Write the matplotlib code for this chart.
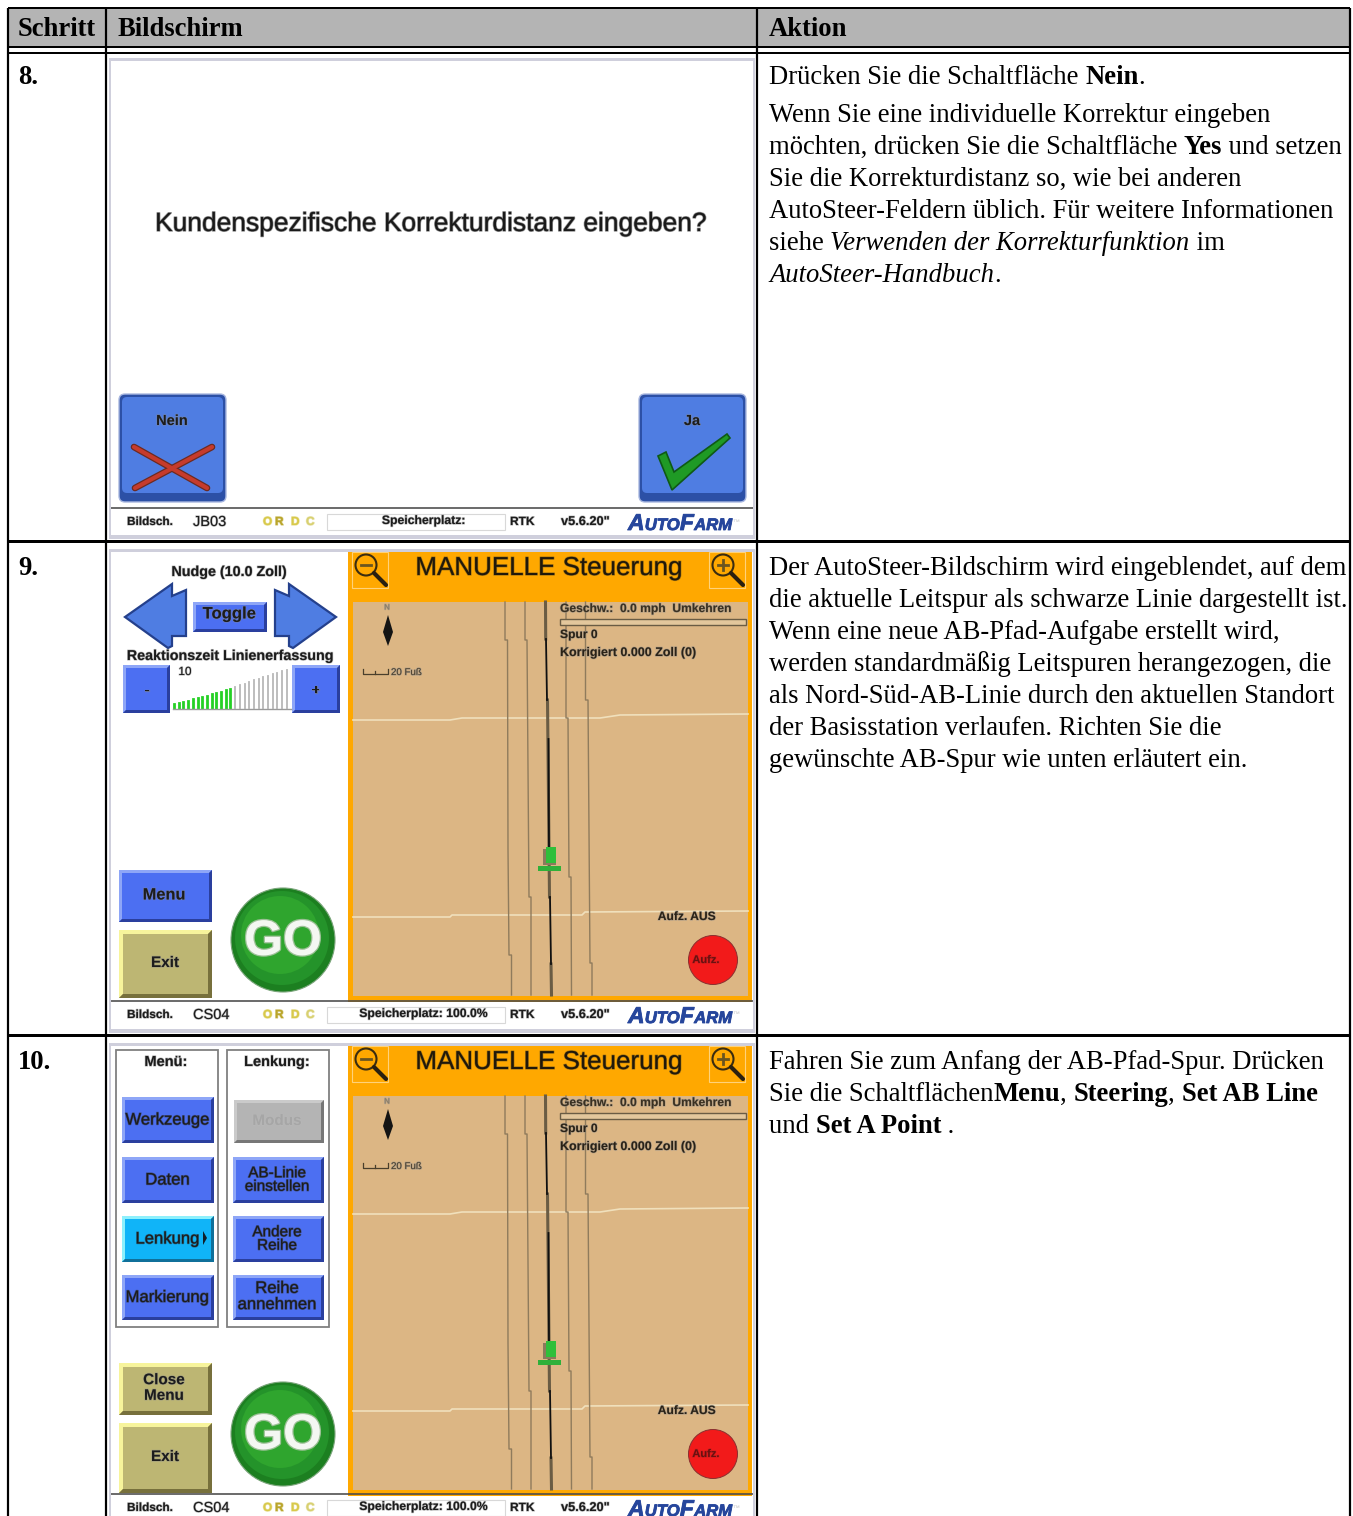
import matplotlib
matplotlib.use("Agg")
import matplotlib.pyplot as plt
import matplotlib.patheffects as pe
from matplotlib.patches import Rectangle, Circle, Polygon, FancyBboxPatch

SERIF = "Liberation Serif"
SANS = "Liberation Sans"

W, H = 1353, 1516

header_labels = ["Schritt", "Bildschirm", "Aktion"]
step_labels = ["8.", "9.", "10."]

# text runs per line, style: n normal, b bold, i italic
action_8 = [
    [("Drücken Sie die Schaltfläche ", "n"), ("Nein", "b"), (".", "n")],
    [("Wenn Sie eine individuelle Korrektur eingeben", "n")],
    [("möchten, drücken Sie die Schaltfläche ", "n"), ("Yes", "b"), (" und setzen", "n")],
    [("Sie die Korrekturdistanz so, wie bei anderen", "n")],
    [("AutoSteer-Feldern üblich. Für weitere Informationen", "n")],
    [("siehe ", "n"), ("Verwenden der Korrekturfunktion", "i"), (" im", "n")],
    [("AutoSteer-Handbuch", "i"), (".", "n")],
]
action_8_base = [84, 122, 154, 186, 218, 250, 282]
action_9 = [
    [("Der AutoSteer-Bildschirm wird eingeblendet, auf dem", "n")],
    [("die aktuelle Leitspur als schwarze Linie dargestellt ist.", "n")],
    [("Wenn eine neue AB-Pfad-Aufgabe erstellt wird,", "n")],
    [("werden standardmäßig Leitspuren herangezogen, die", "n")],
    [("als Nord-Süd-AB-Linie durch den aktuellen Standort", "n")],
    [("der Basisstation verlaufen. Richten Sie die", "n")],
    [("gewünschte AB-Spur wie unten erläutert ein.", "n")],
]
action_9_base = [575, 607, 639, 671, 703, 735, 767]
action_10 = [
    [("Fahren Sie zum Anfang der AB-Pfad-Spur. Drücken", "n")],
    [("Sie die Schaltflächen", "n"), ("Menu", "b"), (", ", "n"), ("Steering", "b"), (", ", "n"), ("Set AB Line", "b")],
    [("und ", "n"), ("Set A Point", "b"), (" .", "n")],
]
action_10_base = [1069, 1101, 1133]

# map track lines: (x, y), y relative to map top 549
tracks = [
    [(505, 53), (505, 91), (507.5, 91), (508, 300), (509, 406), (511.5, 406), (511.5, 446)],
    [(525, 53), (525, 91), (527, 91), (529, 348), (531, 348), (531, 446)],
    [(566, 53), (566, 169), (568, 169), (569, 328), (571, 328), (571.5, 446)],
    [(585.5, 53), (585.5, 151), (588, 151), (590, 414), (592, 414), (592, 446)],
]
center_dark = [
    [(545.5, 53), (545.7, 90)],
    [(547.5, 151), (549.5, 348)],
    [(551, 415), (551.5, 446)],
]
center_black = [
    [(546, 90), (547, 151)],
    [(548.5, 190), (549, 300)],
    [(550, 348), (551, 415)],
]
field_lines = [
    [(353, 171), (450, 171), (462, 169), (600, 169), (620, 166), (748, 165)],
    [(353, 368), (450, 368), (452, 366), (582, 366), (585, 363), (748, 362)],
]
slider_steps = [4, 5, 6, 7, 9, 10, 11, 12, 14, 15, 16, 18, 19, 21, 23, 24, 26, 28, 29, 31, 32, 34, 35, 37, 38]

fig = plt.figure(figsize=(W / 100, H / 100), dpi=100)
ax = fig.add_axes([0, 0, 1, 1])
ax.set_xlim(0, W)
ax.set_ylim(H, 0)
ax.axis("off")
renderer = fig.canvas.get_renderer()


def rect(x0, y0, x1, y1, color, z=2, **kw):
    ax.add_patch(Rectangle((x0, y0), x1 - x0, y1 - y0, facecolor=color, edgecolor="none", zorder=z, **kw))


def hline(x0, x1, y, lw, color="black", z=6):
    ax.plot([x0, x1], [y, y], color=color, lw=lw * 0.72, solid_capstyle="butt", zorder=z)


def vline(x, y0, y1, lw, color="black", z=6):
    ax.plot([x, x], [y0, y1], color=color, lw=lw * 0.72, solid_capstyle="butt", zorder=z)


def runs(x, base, parts, size=19.15):
    for txt, st in parts:
        weight = "bold" if st == "b" else "normal"
        style = "italic" if st == "i" else "normal"
        ax.text(x, base, txt, family=SERIF, fontsize=size, va="baseline", ha="left", color="black",
                fontweight=weight, fontstyle=style, zorder=8)
        # spaces at the end are not always measured, so measure with a stop char
        probe = ax.text(0, 0, txt + "|", family=SERIF, fontsize=size, fontweight=weight, fontstyle=style)
        bar = ax.text(0, 0, "|", family=SERIF, fontsize=size, fontweight=weight, fontstyle=style)
        x += probe.get_window_extent(renderer).width - bar.get_window_extent(renderer).width
        probe.remove()
        bar.remove()


def ui(x, y, s, size=10.5, color="#1c1c1c", weight="bold", ha="center", family=SANS, fuzz="#8a8a8a", **kw):
    t = ax.text(x, y, s, family=family, fontsize=size, color=color, fontweight=weight, ha=ha, va="center",
                zorder=7, **kw)
    t.set_path_effects([pe.withStroke(linewidth=1.0, foreground=fuzz, alpha=0.5)])
    return t


def button(x0, y0, x1, y1, face, light, dark, bevel=3):
    rect(x0, y0, x1, y1, face, z=3)
    ax.add_patch(Polygon([(x0, y0), (x1, y0), (x1 - bevel, y0 + bevel), (x0 + bevel, y0 + bevel),
                          (x0 + bevel, y1 - bevel), (x0, y1)], facecolor=light, edgecolor="none", zorder=4))
    ax.add_patch(Polygon([(x1, y0), (x1, y1), (x0, y1), (x0 + bevel, y1 - bevel), (x1 - bevel, y1 - bevel),
                          (x1 - bevel, y0 + bevel)], facecolor=dark, edgecolor="none", zorder=4))


def blue(x0, y0, x1, y1, bevel=3):
    button(x0, y0, x1, y1, "#4c6ff2", "#8ea6f7", "#2a3f9e", bevel)


def olive(x0, y0, x1, y1):
    button(x0, y0, x1, y1, "#bdb673", "#f7f49c", "#77703c", 4)


def screen(y0, y1):
    rect(109, y0, 755, y1, "white", z=1)
    for a, b, c, d in [(109, y0, 755, y0 + 3), (109, y1 - 4, 755, y1), (109, y0, 111, y1), (753, y0, 755, y1)]:
        rect(a, b, c, d, "#cfcfdc", z=5)


def status(y, code, mem):
    hline(111, 753, y - 14, 1.6, "#4a4a4a")
    ui(127, y, "Bildsch.", size=8.5, ha="left")
    ui(193, y, code, size=10.5, ha="left", weight="normal")
    for dx, ch, col in [(263, "O", "#d8c94a"), (275, "R", "#b9a52a"), (291, "D", "#d8c94a"), (306, "C", "#d8d070")]:
        ui(dx, y, ch, size=8.5, color=col, ha="left", fuzz=col)
    ax.add_patch(Rectangle((327, y - 8), 178, 16, facecolor="white", edgecolor="#d8d8d8", lw=0.8, zorder=4))
    ui(424, y - 1, mem, size=8.8, weight="bold")
    ui(510, y, "RTK", size=8.6, ha="left")
    ui(561, y, "v5.6.20\"", size=9.2, ha="left")
    # logo in small caps
    x = 628
    for s, sz in [("A", 16.5), ("UTO", 12), ("F", 16.5), ("ARM", 12)]:
        t = ax.text(x, y + 8, s, family=SANS, fontsize=sz, fontweight="bold", fontstyle="italic",
                    color="#26469c", va="baseline", ha="left", zorder=7,
                    path_effects=[pe.withStroke(linewidth=0.6, foreground="#26469c")])
        x += t.get_window_extent(renderer).width + 0.3
    ax.text(x, y, "™", family=SANS, fontsize=5, color="#c8c8c8", va="center", zorder=7)


def go_button(cx, cy):
    ax.add_patch(Circle((cx, cy), 52, facecolor="#1c7f20", edgecolor="#7aa57a", lw=0.8, zorder=3))
    ax.add_patch(Circle((cx - 1, cy - 2), 47, facecolor="#24932a", edgecolor="none", zorder=3))
    ax.add_patch(Circle((cx - 3, cy - 5), 39, facecolor="#2fa52e", edgecolor="none", zorder=3))
    ax.text(cx, cy + 2, "GO", family=SANS, fontsize=36, fontweight="bold", color="#f4f7f2", ha="center",
            va="center", zorder=7, path_effects=[pe.withStroke(linewidth=1.8, foreground="#9cc096")])


def magnifier(cx, cy, plus):
    ax.add_patch(Rectangle((cx - 16, cy - 16), 36, 36, facecolor="none", edgecolor="#ffd27a", lw=0.8, zorder=5))
    ax.add_patch(Circle((cx - 2, cy - 3), 10.5, facecolor="none", edgecolor="#3a2c10", lw=1.5, zorder=6))
    ax.plot([cx + 6, cx + 18], [cy + 5, cy + 17], color="#2a2010", lw=3, zorder=6, solid_capstyle="round")
    ax.plot([cx - 7, cx + 3], [cy - 3, cy - 3], color="#6a5520", lw=2, zorder=6)
    if plus:
        ax.plot([cx - 2, cx - 2], [cy - 8, cy + 2], color="#6a5520", lw=2, zorder=6)


def map_view(top):
    rect(348, top, 752, top + 453, "#ffa800", z=2)
    rect(353, top + 53, 748, top + 447, "#dcb684", z=2)
    ui(549, top + 19, "MANUELLE Steuerung", size=18.7, weight="normal", color="#20180a", fuzz="#5a4a20")
    magnifier(368, top + 19, False)
    magnifier(725, top + 19, True)
    for line in field_lines:
        ax.plot([p[0] for p in line], [p[1] + top for p in line], color="#f0e0bc", lw=1.2, zorder=3)
    for line in tracks:
        ax.plot([p[0] for p in line], [p[1] + top for p in line], color="#8f7b5c", lw=1.0, zorder=3)
    for line in center_dark:
        ax.plot([p[0] for p in line], [p[1] + top for p in line], color="#6a5c44", lw=2.2, zorder=4)
    for line in center_black:
        ax.plot([p[0] for p in line], [p[1] + top for p in line], color="#101010", lw=1.3, zorder=4)
    # compass
    ax.add_patch(Polygon([(388, top + 66), (393, top + 83), (388, top + 97), (383, top + 83)],
                         facecolor="#141414", edgecolor="none", zorder=5))
    ui(387, top + 59, "N", size=5.5, color="#8a7a60", weight="normal")
    ax.plot([363, 363, 388, 388], [top + 120, top + 125, top + 125, top + 120], color="#4a3f2c", lw=0.9, zorder=5)
    ax.plot([375, 375], [top + 122, top + 125], color="#4a3f2c", lw=0.9, zorder=5)
    ui(391, top + 123, "20 Fuß", size=7, ha="left", weight="normal", color="#4a3f2c")
    ui(560, top + 60, "Geschw.:  0.0 mph  Umkehren", size=8.7, ha="left", color="#3a3020")
    ax.add_patch(Rectangle((560, top + 70), 186, 6, facecolor="#e3c79c", edgecolor="#6a5c44", lw=1, zorder=5))
    ui(560, top + 86, "Spur 0", size=8.7, ha="left", color="#2a2216")
    ui(560, top + 104, "Korrigiert 0.000 Zoll (0)", size=9, ha="left", color="#2a2216")
    # tractor
    rect(543, top + 300, 556, top + 316, "#8a7a5c", z=5)
    rect(546, top + 298, 556, top + 314, "#2fbf3a", z=6)
    rect(538, top + 317, 561, top + 322, "#2fb03a", z=6)
    ui(687, top + 368, "Aufz. AUS", size=8.7, color="#2a2216")
    ax.add_patch(Circle((713, top + 411), 24.5, facecolor="#f21a1a", edgecolor="#8a3030", lw=0.7, zorder=5))
    ui(706, top + 411, "Aufz.", size=8, color="#6a1010", fuzz="#b02020")


def big_button(x0, x1, lab):
    ax.add_patch(FancyBboxPatch((x0 + 3, 397), x1 - x0 - 6, 102, boxstyle="round,pad=3,rounding_size=6",
                                facecolor="#2c50a6", edgecolor="#a9b8e0", lw=1.0, zorder=3))
    ax.add_patch(FancyBboxPatch((x0 + 5, 399), x1 - x0 - 10, 92, boxstyle="round,pad=2,rounding_size=5",
                                facecolor="#4f7de2", edgecolor="none", zorder=3))
    ui((x0 + x1) / 2 - 0.5, 421, lab, size=10.5)


# ---- table frame
rect(8, 8, 1350, 47, "#b4b4b4", z=1)
hline(8, 1350, 8, 2)
hline(8, 1350, 47, 2)
hline(8, 1350, 53, 2)
hline(8, 1350, 541, 3)
hline(8, 1350, 1035, 3)
for xv in [8, 106, 757, 1350]:
    vline(xv, 8, H, 2.2, z=9)

for x, s in zip([18, 117, 769], header_labels):
    ax.text(x, 36, s, family=SERIF, fontsize=19.2, fontweight="bold", va="baseline", zorder=8)
for y, s in zip([84, 575, 1069], step_labels):
    ax.text(18, y, s, family=SERIF, fontsize=19.2, fontweight="bold", va="baseline", zorder=8)

for lines, bases in [(action_8, action_8_base), (action_9, action_9_base), (action_10, action_10_base)]:
    for parts, b in zip(lines, bases):
        runs(769, b, parts)

# ---- step 8 screen
screen(58, 539)
ax.text(431, 224, "Kundenspezifische Korrekturdistanz eingeben?", family=SANS, fontsize=19, color="#1a1a1a",
        ha="center", va="center", zorder=7,
        path_effects=[pe.withStroke(linewidth=1.1, foreground="#6a6a6a", alpha=0.7)])
big_button(119, 226, "Nein")
big_button(639, 746, "Ja")
for a, b in [((135, 488), (212, 447)), ((134, 447), (207, 488))]:
    ax.plot([a[0], b[0]], [a[1], b[1]], color="#6e2a20", lw=4.8, zorder=5, solid_capstyle="round")
    ax.plot([a[0], b[0]], [a[1], b[1]], color="#c63b2c", lw=3.0, zorder=6, solid_capstyle="round")
ax.add_patch(Polygon([(658, 456), (666, 452), (674, 472), (727, 434), (730, 438), (672, 490)],
                     facecolor="#1f9a25", edgecolor="#0f5a15", lw=1.2, zorder=5))
status(522, "JB03", "Speicherplatz:")

# ---- step 9 screen
screen(549, 1033)
map_view(549)
ui(229, 572, "Nudge (10.0 Zoll)", size=10.3)
ax.add_patch(Polygon([(125, 617), (172, 584), (172, 596), (186, 590), (186, 636), (172, 636), (172, 646), (168, 648)],
                     facecolor="#4f7de2", edgecolor="#24408c", lw=1.6, zorder=3))
ax.add_patch(Polygon([(336, 617), (289, 584), (289, 596), (275, 590), (275, 636), (289, 636), (289, 646), (293, 648)],
                     facecolor="#4f7de2", edgecolor="#24408c", lw=1.6, zorder=3))
blue(193, 602, 267, 632)
ui(229, 614, "Toggle", size=12)
ui(230, 656, "Reaktionszeit Linienerfassung", size=10.3)
blue(123, 665, 170, 713)
blue(292, 665, 340, 713)
ui(147, 690, "-", size=10)
ui(316, 690, "+", size=10)
ui(185, 672, "10", size=8.5, weight="normal")
for k, h in enumerate(slider_steps):
    xb = 174 + k * 4.7
    ax.plot([xb, xb], [708, 708 - h], color="#25d025" if k < 13 else "#b8b8b8", lw=2 if k < 13 else 1.3, zorder=4)
ax.plot([173, 291], [709, 709], color="#9a9a9a", lw=1, zorder=4)
blue(119, 870, 212, 922)
ui(164, 895, "Menu", size=11.8)
olive(119, 930, 212, 998)
ui(165, 963, "Exit", size=11)
go_button(283, 940)
status(1015, "CS04", "Speicherplatz: 100.0%")

# ---- step 10 screen, runs off the page
screen(1043, 1540)
map_view(1043)
for x0, x1, lab in [(116, 218, "Menü:"), (227, 329, "Lenkung:")]:
    ax.add_patch(Rectangle((x0, 1050), x1 - x0, 277, facecolor="white", edgecolor="#808080", lw=1.3, zorder=2))
    ui((x0 + x1) / 2 - 1, 1062, lab, size=10.5)
left_labels = ["Werkzeuge", "Daten", "Lenkung", "Markierung"]
right_labels = ["Modus", "AB-Linie\neinstellen", "Andere\nReihe", "Reihe\nannehmen"]
btn_y = [(1097, 1143), (1157, 1203), (1216, 1262), (1275, 1320)]
for (y0, y1), lab, lab2 in zip(btn_y, left_labels, right_labels):
    if lab == "Lenkung":
        button(122, y0, 214, y1, "#10b4f8", "#8ef0fc", "#10709a")
    else:
        blue(122, y0, 214, y1)
    ui(167.5, (y0 + y1) / 2, lab, size=12, weight="normal", fuzz="#303030")
    if lab2 == "Modus":
        button(234, y0 + 3, 324, y1, "#b4b4b4", "#cacaca", "#777777")
        ui(277, (y0 + y1) / 2 + 1, lab2, size=11, color="#a6a6a6", fuzz="#bbbbbb")
    elif "annehmen" in lab2:
        blue(233, y0, 324, y1)
        ui(277, (y0 + y1) / 2 - 1, lab2, size=12, weight="normal", linespacing=1.1, fuzz="#303030")
    else:
        blue(233, y0, 324, y1)
        ui(277, (y0 + y1) / 2, lab2, size=11, weight="normal", linespacing=0.95, fuzz="#303030")
ax.add_patch(Polygon([(203, 1231), (207, 1238), (203, 1245)], facecolor="#10202a", edgecolor="none", zorder=8))
olive(119, 1363, 212, 1415)
ui(164, 1388, "Close\nMenu", size=11, linespacing=1.15)
olive(119, 1423, 212, 1493)
ui(165, 1457, "Exit", size=11)
go_button(283, 1434)
status(1508, "CS04", "Speicherplatz: 100.0%")

fig.savefig("out.png", dpi=100)
